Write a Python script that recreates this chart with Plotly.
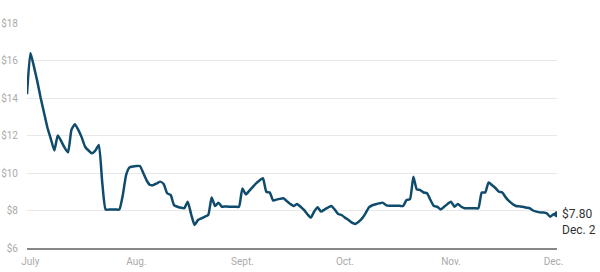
import plotly.graph_objects as go
import pandas as pd

start_date = "2023-06-30"
# daily values from June 30 through Dec. 2
values = [
    14.2, 16.4, 15.7, 14.9, 14.0, 13.2, 12.4, 11.8, 11.2, 12.0,   # Jun30-Jul9
    11.7, 11.35, 11.1, 12.3, 12.6, 12.3, 11.9, 11.4, 11.2, 11.05,  # Jul10-Jul19
    11.2, 11.5, 9.5, 8.05, 8.05, 8.05, 8.05, 8.05, 8.8, 9.9,       # Jul20-Jul29
    10.3, 10.35, 10.37, 10.37, 10.0, 9.6, 9.36, 9.36, 9.45, 9.54,  # Jul30-Aug8
    9.4, 8.92, 8.83, 8.29, 8.2, 8.15, 8.12, 8.47, 7.8, 7.23,       # Aug9-Aug18
    7.49, 7.58, 7.67, 7.76, 8.7, 8.24, 8.42, 8.2, 8.22, 8.2,       # Aug19-Aug28
    8.2, 8.2, 8.2, 9.18, 8.86, 9.05, 9.25, 9.45, 9.6, 9.72,        # Aug29-Sep7
    9.0, 8.96, 8.53, 8.58, 8.62, 8.65, 8.5, 8.35, 8.24, 8.35,      # Sep8-Sep17
    8.2, 8.03, 7.8, 7.62, 7.95, 8.17, 7.94, 8.05, 8.15, 8.24,      # Sep18-Sep27
    8.05, 7.81, 7.76, 7.62, 7.49, 7.35, 7.28, 7.4, 7.58, 7.85,     # Sep28-Oct7
    8.17, 8.28, 8.33, 8.38, 8.42, 8.29, 8.25, 8.25, 8.25, 8.25,    # Oct8-Oct17
    8.24, 8.56, 8.6, 9.8, 9.13, 9.09, 8.96, 8.92, 8.56, 8.24,      # Oct18-Oct27
    8.2, 8.06, 8.2, 8.35, 8.47, 8.2, 8.35, 8.2, 8.12, 8.12,        # Oct28-Nov6
    8.12, 8.12, 8.12, 8.96, 8.96, 9.5, 9.35, 9.2, 9.0, 8.96,       # Nov7-Nov16
    8.7, 8.5, 8.35, 8.24, 8.22, 8.2, 8.15, 8.12, 8.0, 7.94,        # Nov17-Nov26
    7.9, 7.89, 7.85, 7.67, 7.8, 7.8                                # Nov27-Dec2
]
dates = pd.date_range(start_date, periods=len(values), freq="D")

month_ticks = ["2023-07-01", "2023-08-01", "2023-09-01", "2023-10-01", "2023-11-01", "2023-12-01"]
month_labels = ["July", "Aug.", "Sept.", "Oct.", "Nov.", "Dec."]
y_ticks = [6, 8, 10, 12, 14, 16, 18]
y_labels = ["$6", "$8", "$10", "$12", "$14", "$16", "$18"]
last_label = "$7.80<br>Dec. 2"

line_color = "#0f4b6c"

fig = go.Figure()
fig.add_trace(go.Scatter(
    x=dates, y=values, mode="lines",
    line=dict(color=line_color, width=2.5, shape="spline", smoothing=0.5),
    hoverinfo="skip", showlegend=False,
))
fig.add_trace(go.Scatter(
    x=[dates[-1]], y=[values[-1]], mode="markers",
    marker=dict(color=line_color, size=6),
    hoverinfo="skip", showlegend=False,
))
fig.add_annotation(
    x=dates[-1], y=values[-1], text=last_label, showarrow=False,
    xanchor="left", yanchor="middle", align="left", xshift=3, yshift=-8,
    font=dict(family="Roboto", size=12, color="#333333"),
)

fig.update_layout(
    width=600, height=272,
    margin=dict(l=27, r=43, t=23, b=24),
    paper_bgcolor="white", plot_bgcolor="white",
    xaxis=dict(
        range=[dates[0], dates[-1]],
        tickvals=month_ticks, ticktext=month_labels,
        showgrid=False, zeroline=False, automargin=False,
        showline=True, linecolor="#888888", linewidth=1.5,
        ticks="outside", ticklen=3, tickcolor="rgba(0,0,0,0)",
        tickfont=dict(family="Roboto", size=10, color="#aaaaaa"),
    ),
    yaxis=dict(
        range=[6, 18],
        tickvals=y_ticks, ticktext=y_labels,
        showgrid=True, gridcolor="#e8e8e8", gridwidth=1,
        zeroline=False, showline=False, automargin=False,
        ticks="outside", ticklen=6, tickcolor="rgba(0,0,0,0)",
        tickfont=dict(family="Roboto", size=10, color="#aaaaaa"),
    ),
)

fig.write_html("out.html")
